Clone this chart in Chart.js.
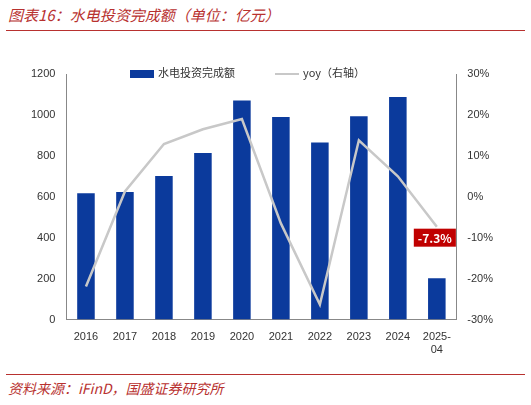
<!DOCTYPE html>
<html>
<head>
<meta charset="utf-8">
<script src="https://cdn.jsdelivr.net/npm/chart.js@4"></script>
<style>
  body { margin: 0; width: 531px; height: 405px; background: #fff; font-family: "Noto Sans CJK SC", sans-serif; position: relative; overflow: hidden; }
  #title { position: absolute; left: 8px; top: 4px; font-size: 15px; font-style: italic; color: #b8312f; }
  #topline { position: absolute; left: 6px; right: 6px; top: 30px; border-top: 1.5px solid #b8312f; }
  #box { position: absolute; left: 0; top: 50px; width: 531px; height: 310px; }
  #legend { position: absolute; top: 64px; left: 130px; font-size: 11px; color: #333; display: flex; gap: 40px; }
  #legend span.sw { display: inline-block; vertical-align: middle; margin-right: 4px; }
  #botline { position: absolute; left: 6px; right: 6px; top: 374px; border-top: 1.5px solid #b8312f; }
  #source { position: absolute; left: 8px; top: 378px; font-size: 14px; font-style: italic; color: #b8312f; }
</style>
</head>
<body>
<div id="title">图表16：水电投资完成额（单位：亿元）</div>
<div id="topline"></div>
<div id="box"><canvas id="chart"></canvas></div>
<div id="legend">
  <div><span class="sw" style="width:24px;height:8px;background:#0b3a9c"></span>水电投资完成额</div>
  <div><span class="sw" style="width:24px;height:2px;background:#c8c8c8"></span>yoy（右轴）</div>
</div>
<div id="botline"></div>
<div id="source">资料来源：iFinD，国盛证券研究所</div>
<script>
  // --- DATOS ---
  const years = ['2016', '2017', '2018', '2019', '2020', '2021', '2022', '2023', '2024', ['2025-', '04']];
  const investment = [617, 623, 702, 814, 1070, 990, 865, 994, 1088, 202];
  const yoy = [-21.9, 1.3, 12.9, 16.5, 19.0, -6.5, -26.3, 13.8, 5.0, -7.3];
  const lastLabel = '-7.3%';

  // etiqueta roja del último punto
  const lastPointLabel = {
    id: 'lastPointLabel',
    afterDatasetsDraw(chart) {
      const meta = chart.getDatasetMeta(1);
      const pt = meta.data[meta.data.length - 1];
      const ctx = chart.ctx;
      ctx.save();
      ctx.font = 'bold 12px "Noto Sans CJK SC", sans-serif';
      const w = ctx.measureText(lastLabel).width + 8;
      const h = 18;
      const x = pt.x - w / 2 - 2;
      const y = pt.y + 2;
      ctx.fillStyle = '#c00000';
      ctx.fillRect(x, y, w, h);
      ctx.fillStyle = '#fff';
      ctx.textAlign = 'center';
      ctx.textBaseline = 'middle';
      ctx.fillText(lastLabel, x + w / 2, y + h / 2 + 1);
      ctx.restore();
    }
  };

  new Chart(document.getElementById('chart'), {
    data: {
      labels: years,
      datasets: [
        {
          type: 'bar',
          label: '水电投资完成额',
          data: investment,
          backgroundColor: '#0b3a9c',
          barPercentage: 0.45,
          categoryPercentage: 1,
          yAxisID: 'y',
          order: 2
        },
        {
          type: 'line',
          label: 'yoy（右轴）',
          data: yoy,
          borderColor: '#c8c8c8',
          borderWidth: 2.5,
          pointRadius: 0,
          tension: 0,
          yAxisID: 'y1',
          order: 1
        }
      ]
    },
    options: {
      responsive: true,
      maintainAspectRatio: false,
      animation: false,
      layout: { padding: { left: 28, right: 35, top: 24, bottom: 0 } },
      plugins: {
        legend: { display: false },
        tooltip: { enabled: false }
      },
      scales: {
        x: {
          grid: { display: false },
          border: { color: '#888' },
          ticks: { color: '#333', font: { size: 11 }, maxRotation: 0 }
        },
        y: {
          position: 'left',
          min: 0, max: 1200,
          ticks: { stepSize: 200, color: '#333', font: { size: 11 }, callback: v => v },
          grid: { display: false },
          border: { color: '#888' }
        },
        y1: {
          position: 'right',
          min: -30, max: 30,
          ticks: { stepSize: 10, color: '#333', font: { size: 11 }, callback: v => v + '%' },
          grid: { display: false },
          border: { color: '#888' }
        }
      }
    },
    plugins: [lastPointLabel]
  });
</script>
</body>
</html>
